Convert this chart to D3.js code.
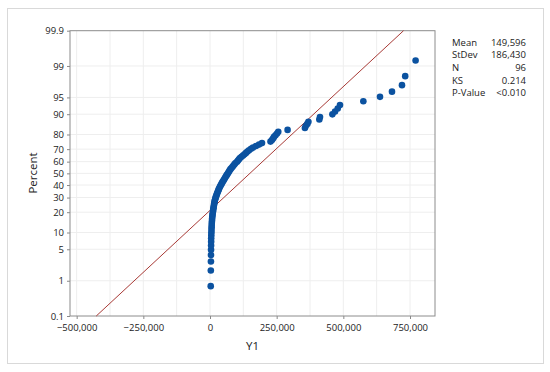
<!DOCTYPE html>
<html>
<head>
<meta charset="utf-8">
<script src="https://cdn.jsdelivr.net/npm/d3@7"></script>
<style>
  body { margin: 0; background: #fff; }
  text { font-family: "Open Sans", "Noto Sans", sans-serif; fill: #222; }
  .tick text { font-size: 9.5px; }
</style>
</head>
<body>
<script>
// sorted values of Y1 (n = 96)
var y1Values = [
  2800, 3100, 3500, 3700, 3900, 4100, 4300, 4500, 4900, 5300,
  5600, 6000, 6400, 6800, 7500, 7900, 8600, 9400, 10100, 11300,
  12000, 12800, 13900, 15000, 15800, 16900, 18000, 19500, 21000, 22500,
  24400, 26300, 28100, 30000, 31900, 33800, 36400, 38600, 41300, 43500,
  46100, 48800, 51800, 54400, 57000, 60000, 62600, 65600, 68300, 71300,
  73900, 76900, 80600, 84400, 88100, 91900, 95600, 101300, 105000, 108800,
  112500, 118100, 123800, 129400, 135000, 140600, 146300, 153800, 161300, 172500,
  183800, 195000, 226900, 232500, 236300, 240000, 245600, 251300, 256000, 291000,
  356000, 359000, 365000, 369000, 410000, 412500, 459000, 469000, 479000, 487500,
  575000, 637500, 682500, 720000, 732000, 771000
];

var xTicks = [-500000, -250000, 0, 250000, 500000, 750000];
var xGrid = [-500000, -375000, -250000, -125000, 0, 125000, 250000, 375000, 500000, 625000, 750000];
var pTicks = [0.1, 1, 5, 10, 20, 30, 40, 50, 60, 70, 80, 90, 95, 99, 99.9];

var statLabels = ["Mean", "StDev", "N", "KS", "P-Value"];
var statValues = ["149,596", "186,430", "96", "0.214", "<0.010"];
var mean = 149596, stdev = 186430;

// inverse normal cdf (Acklam)
function probit(p) {
  var a = [-39.69683028665376, 220.9460984245205, -275.9285104469687, 138.3577518672690, -30.66479806614716, 2.506628277459239],
      b = [-54.47609879822406, 161.5858368580409, -155.6989798598866, 66.80131188771972, -13.28068155288572],
      c = [-0.007784894002430293, -0.3223964580411365, -2.400758277161838, -2.549732539343734, 4.374664141464968, 2.938163982698783],
      d = [0.007784695709041462, 0.3224671290700398, 2.445134137142996, 3.754408661907416];
  var q, r;
  if (p < 0.02425) {
    q = Math.sqrt(-2 * Math.log(p));
    return (((((c[0]*q+c[1])*q+c[2])*q+c[3])*q+c[4])*q+c[5]) / ((((d[0]*q+d[1])*q+d[2])*q+d[3])*q+1);
  } else if (p > 1 - 0.02425) {
    q = Math.sqrt(-2 * Math.log(1 - p));
    return -(((((c[0]*q+c[1])*q+c[2])*q+c[3])*q+c[4])*q+c[5]) / ((((d[0]*q+d[1])*q+d[2])*q+d[3])*q+1);
  }
  q = p - 0.5; r = q * q;
  return (((((a[0]*r+a[1])*r+a[2])*r+a[3])*r+a[4])*r+a[5])*q / (((((b[0]*r+b[1])*r+b[2])*r+b[3])*r+b[4])*r+1);
}

var width = 550, height = 372;
var plot = {left: 70, right: 435, top: 30.7, bottom: 316};

var n = y1Values.length;
// median ranks for the plotting positions
var points = y1Values.map(function(v, i) {
  return {x: v, p: (i + 1 - 0.3) / (n + 0.4)};
});

var xScale = d3.scaleLinear()
  .domain([-525000, 843750])
  .range([plot.left, plot.right]);

var zScale = d3.scaleLinear()
  .domain([probit(0.001), probit(0.999)])
  .range([plot.bottom, plot.top]);

function yPos(pct) { return zScale(probit(pct / 100)); }

var svg = d3.select("body").append("svg")
  .attr("width", width)
  .attr("height", height);

// outer panel
svg.append("rect")
  .attr("x", 7.5).attr("y", 8.5)
  .attr("width", 536).attr("height", 355)
  .attr("fill", "#fff")
  .attr("stroke", "#d9d9d9");

// grid
svg.append("g").selectAll("line.vg")
  .data(xGrid).enter().append("line")
  .attr("x1", function(d) { return xScale(d); })
  .attr("x2", function(d) { return xScale(d); })
  .attr("y1", plot.top).attr("y2", plot.bottom)
  .attr("stroke", "#eeeeee");

svg.append("g").selectAll("line.hg")
  .data(pTicks.slice(1, -1)).enter().append("line")
  .attr("x1", plot.left).attr("x2", plot.right)
  .attr("y1", function(d) { return yPos(d); })
  .attr("y2", function(d) { return yPos(d); })
  .attr("stroke", "#eeeeee");

// axes
var xAxis = svg.append("g")
  .attr("transform", "translate(0," + plot.bottom + ")")
  .call(d3.axisBottom(xScale).tickValues(xTicks).tickFormat(d3.format(",")).tickSize(3).tickSizeOuter(0));

var yAxis = svg.append("g")
  .attr("transform", "translate(" + plot.left + ",0)")
  .call(d3.axisLeft(zScale)
    .tickValues(pTicks.map(function(p) { return probit(p / 100); }))
    .tickFormat(function(z, i) { return String(pTicks[i]); })
    .tickSize(3).tickSizeOuter(0));

[xAxis, yAxis].forEach(function(ax) {
  ax.select(".domain").remove();
  ax.selectAll(".tick line").attr("stroke", "#888");
  ax.selectAll(".tick text").attr("fill", "#222");
});
xAxis.selectAll(".tick text").attr("dy", "0.9em");

// plot frame
svg.append("rect")
  .attr("x", plot.left).attr("y", plot.top)
  .attr("width", plot.right - plot.left)
  .attr("height", plot.bottom - plot.top)
  .attr("fill", "none")
  .attr("stroke", "#8c8c8c");

// fitted normal line
var fitLine = [0.001, 0.999].map(function(p) {
  return {x: mean + stdev * probit(p), z: probit(p)};
});
svg.append("line")
  .attr("x1", xScale(fitLine[0].x)).attr("y1", zScale(fitLine[0].z))
  .attr("x2", xScale(fitLine[1].x)).attr("y2", zScale(fitLine[1].z))
  .attr("stroke", "#a83a36")
  .attr("stroke-width", 1);

// points
svg.append("g").selectAll("circle")
  .data(points).enter().append("circle")
  .attr("cx", function(d) { return xScale(d.x); })
  .attr("cy", function(d) { return zScale(probit(d.p)); })
  .attr("r", 3.3)
  .attr("fill", "#0b52a0");

// axis titles
svg.append("text")
  .attr("x", (plot.left + plot.right) / 2)
  .attr("y", 350)
  .attr("text-anchor", "middle")
  .style("font-size", "11.5px")
  .text("Y1");

svg.append("text")
  .attr("transform", "rotate(-90)")
  .attr("x", -173)
  .attr("y", 37)
  .attr("text-anchor", "middle")
  .style("font-size", "11.5px")
  .text("Percent");

// stats table
var stats = svg.append("g");
statLabels.forEach(function(lab, i) {
  stats.append("text")
    .attr("x", 452).attr("y", 45.5 + i * 12.7)
    .style("font-size", "9.5px")
    .text(lab);
  stats.append("text")
    .attr("x", 526).attr("y", 45.5 + i * 12.7)
    .attr("text-anchor", "end")
    .style("font-size", "9.5px")
    .text(statValues[i]);
});
</script>
</body>
</html>
